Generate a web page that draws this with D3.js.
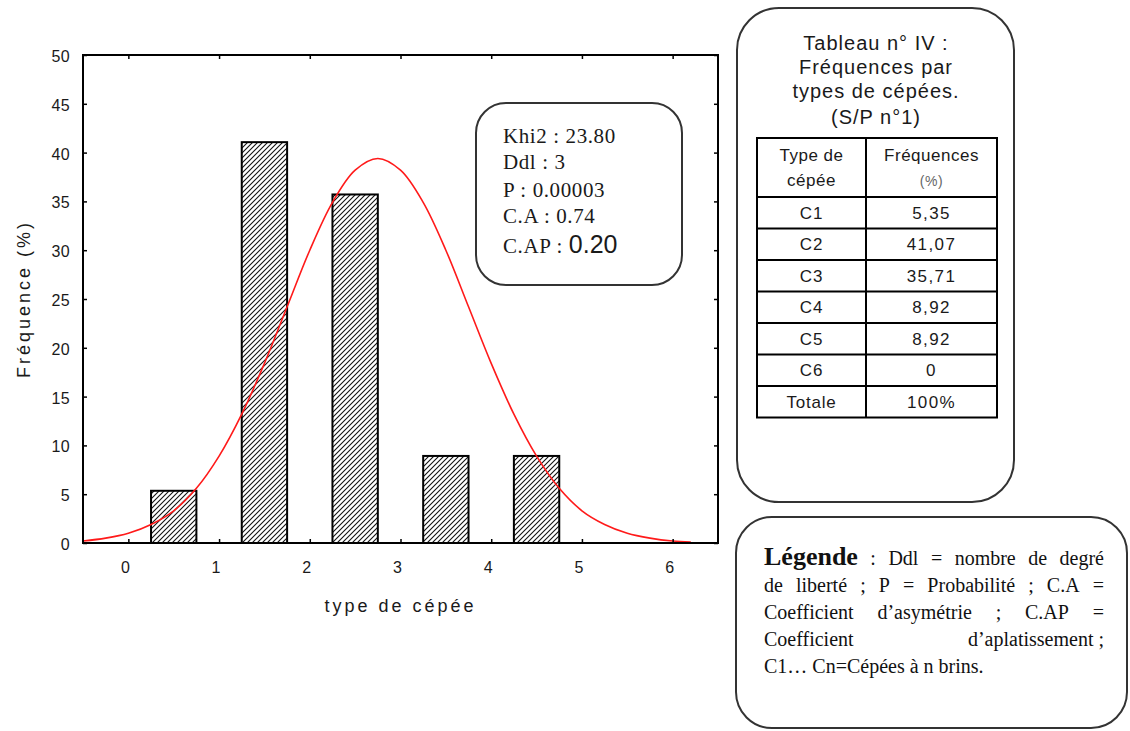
<!DOCTYPE html>
<html>
<head>
<meta charset="utf-8">
<script src="https://cdn.jsdelivr.net/npm/d3@7"></script>
<style>
  html, body { margin: 0; padding: 0; background: #fff; }
  svg { display: block; }
</style>
</head>
<body>
<svg id="chart" width="1130" height="731"></svg>
<script>
// Frequencies by stool type (cépée), S/P n°1
const categories = ["C1", "C2", "C3", "C4", "C5", "C6"];
const frequencies = [5.35, 41.07, 35.71, 8.92, 8.92, 0];

// Axis ticks
const xTicks = [0, 1, 2, 3, 4, 5, 6];
const yTicks = [0, 5, 10, 15, 20, 25, 30, 35, 40, 45, 50];

// Fitted normal curve, sampled along the x axis
const curveX = [-0.5, -0.25, 0, 0.25, 0.5, 0.75, 1, 1.25, 1.5, 1.75, 2, 2.25, 2.5, 2.75,
                3, 3.25, 3.5, 3.75, 4, 4.25, 4.5, 4.75, 5, 5.25, 5.5, 5.75, 6, 6.2];
const curveY = [0.2, 0.5, 1.0, 1.9, 3.3, 5.6, 8.9, 13.2, 18.4, 24.2, 30.0, 34.9, 38.2, 39.4,
                38.2, 34.9, 30.0, 24.2, 18.4, 13.2, 8.9, 5.6, 3.3, 1.9, 1.0, 0.5, 0.2, 0.1];

// Test statistics
const statLabels = ["Khi2 : 23.80", "Ddl : 3", "P : 0.00003", "C.A : 0.74"];
const kurtosisLabel = "C.AP : ";
const kurtosisValue = "0.20";

// Table texts
const tableTitle = ["Tableau n° IV :", "Fréquences par", "types de cépées.", "(S/P n°1)"];
const tableHeader = [["Type de", "cépée"], ["Fréquences", "(%)"]];
const totalLabel = "Totale";

// Legend texts, one array of words per justified line
const legendLines = [
  ["Légende", ":", "Ddl", "=", "nombre", "de", "degré"],
  ["de", "liberté", ";", "P", "=", "Probabilité", ";", "C.A", "="],
  ["Coefficient", "d’asymétrie", ";", "C.AP", "="],
  ["Coefficient", "d’aplatissement\u00a0;"],
  ["C1…", "Cn=Cépées", "à", "n", "brins."]
];

const svg = d3.select("#chart");

// ---------- plot ----------
const plot = { left: 83, right: 718, top: 55, bottom: 543 };
const x = d3.scaleLinear().domain([-0.5, 6.5]).range([plot.left, plot.right]);
const y = d3.scaleLinear().domain([0, 50]).range([plot.bottom, plot.top]);

const defs = svg.append("defs");
const hatch = defs.append("pattern")
  .attr("id", "hatch")
  .attr("patternUnits", "userSpaceOnUse")
  .attr("width", 5).attr("height", 5);
hatch.append("path")
  .attr("d", "M-1,1 l2,-2 M0,5 l5,-5 M4,6 l2,-2")
  .attr("stroke", "#111").attr("stroke-width", 1.1);

defs.append("clipPath").attr("id", "plotClip")
  .append("rect")
  .attr("x", plot.left).attr("y", plot.top)
  .attr("width", plot.right - plot.left).attr("height", plot.bottom - plot.top);

// bars: category i is centred at i + 0.5, half a unit wide
const barW = x(0.5) - x(0);
svg.append("g").selectAll("rect")
  .data(frequencies.map((v, i) => ({ v, i })).filter(d => d.v > 0))
  .join("rect")
  .attr("x", d => x(d.i + 0.5) - barW / 2)
  .attr("y", d => y(d.v))
  .attr("width", barW)
  .attr("height", d => y(0) - y(d.v))
  .attr("fill", "url(#hatch)")
  .attr("stroke", "#000")
  .attr("stroke-width", 2);

// normal curve
const line = d3.line()
  .x((d, i) => x(curveX[i]))
  .y(d => y(d))
  .curve(d3.curveCatmullRom);
svg.append("path")
  .attr("clip-path", "url(#plotClip)")
  .attr("d", line(curveY))
  .attr("fill", "none")
  .attr("stroke", "#ff1a1a")
  .attr("stroke-width", 1.6);

// axes with inward ticks on all four sides
const tickFont = "16px 'Liberation Sans', Arial, sans-serif";
const gx = svg.append("g").attr("transform", `translate(0,${plot.bottom})`)
  .call(d3.axisBottom(x).tickValues(xTicks).tickSize(-4).tickPadding(19).tickFormat(d3.format("d")));
const gy = svg.append("g").attr("transform", `translate(${plot.left},0)`)
  .call(d3.axisLeft(y).tickValues(yTicks).tickSize(-4).tickPadding(13).tickFormat(d3.format("d")));
const gt = svg.append("g").attr("transform", `translate(0,${plot.top})`)
  .call(d3.axisTop(x).tickValues(xTicks).tickSize(-4).tickFormat(""));
const gr = svg.append("g").attr("transform", `translate(${plot.right},0)`)
  .call(d3.axisRight(y).tickValues(yTicks).tickSize(-4).tickFormat(""));
[gx, gy, gt, gr].forEach(g => {
  g.select(".domain").remove();
  g.selectAll(".tick line").attr("stroke", "#000").attr("stroke-width", 1.5);
  g.selectAll(".tick text").style("font", tickFont).attr("fill", "#1a1a1a");
});
gx.selectAll(".tick text").attr("dx", -3).attr("letter-spacing", 1);
gy.selectAll(".tick text").attr("dy", "0.4em").attr("letter-spacing", 0.3);

svg.append("rect")
  .attr("x", plot.left).attr("y", plot.top)
  .attr("width", plot.right - plot.left).attr("height", plot.bottom - plot.top)
  .attr("fill", "none").attr("stroke", "#000").attr("stroke-width", 2);

// axis titles
svg.append("text")
  .attr("x", (plot.left + plot.right) / 2).attr("y", 612)
  .attr("text-anchor", "middle")
  .style("font", "18px 'Liberation Sans', Arial, sans-serif")
  .attr("letter-spacing", 3)
  .attr("fill", "#1a1a1a")
  .text("type de cépée");
svg.append("text")
  .attr("transform", `translate(30,${(plot.top + plot.bottom) / 2}) rotate(-90)`)
  .attr("text-anchor", "middle")
  .style("font", "18px 'Liberation Sans', Arial, sans-serif")
  .attr("letter-spacing", 3)
  .attr("fill", "#1a1a1a")
  .text("Fréquence (%)");

// ---------- statistics box ----------
const boxStroke = "#333";
svg.append("rect")
  .attr("x", 476).attr("y", 103).attr("width", 206).attr("height", 182)
  .attr("rx", 30).attr("ry", 30)
  .attr("fill", "#fff").attr("stroke", boxStroke).attr("stroke-width", 2);
const serif = "'Liberation Serif', 'Times New Roman', serif";
const statBaselines = [143, 169, 197, 223];
statLabels.forEach((s, i) => {
  svg.append("text")
    .attr("x", 503).attr("y", statBaselines[i])
    .style("font", `21px ${serif}`)
    .attr("letter-spacing", 0.6)
    .attr("fill", "#1a1a1a")
    .text(s);
});
const kt = svg.append("text").attr("x", 503).attr("y", 253).attr("fill", "#1a1a1a");
kt.append("tspan").style("font", `21px ${serif}`).attr("letter-spacing", 0.6).text(kurtosisLabel);
kt.append("tspan").style("font", "25px 'Liberation Sans', Arial, sans-serif").text(kurtosisValue);

// ---------- table box ----------
svg.append("rect")
  .attr("x", 737).attr("y", 8).attr("width", 277).attr("height", 494)
  .attr("rx", 42).attr("ry", 42)
  .attr("fill", "#fff").attr("stroke", boxStroke).attr("stroke-width", 2);
const sans = "'Liberation Sans', Arial, sans-serif";
const titleBaselines = [50, 74, 98, 124];
tableTitle.forEach((s, i) => {
  svg.append("text")
    .attr("x", 876).attr("y", titleBaselines[i])
    .attr("text-anchor", "middle")
    .style("font", `20px ${sans}`)
    .attr("letter-spacing", 1)
    .attr("fill", "#1a1a1a")
    .text(s);
});

const tbl = { left: 757, mid: 866, right: 997, top: 138, headerBottom: 197, rowH: 31.5 };
const rowLabels = categories.concat([totalLabel]);
const fmtFreq = v => v === 0 ? "0" : v.toFixed(2).replace(".", ",");
const rowValues = frequencies.map(fmtFreq).concat([Math.round(d3.sum(frequencies)) + "%"]);
const tblBottom = tbl.headerBottom + rowLabels.length * tbl.rowH;

const tg = svg.append("g");
tg.append("rect")
  .attr("x", tbl.left).attr("y", tbl.top)
  .attr("width", tbl.right - tbl.left).attr("height", tblBottom - tbl.top)
  .attr("fill", "none").attr("stroke", "#000").attr("stroke-width", 2);
tg.append("line")
  .attr("x1", tbl.mid).attr("x2", tbl.mid).attr("y1", tbl.top).attr("y2", tblBottom)
  .attr("stroke", "#000").attr("stroke-width", 2);
tg.selectAll("line.row")
  .data(rowLabels)
  .join("line").attr("class", "row")
  .attr("x1", tbl.left).attr("x2", tbl.right)
  .attr("y1", (d, i) => tbl.headerBottom + i * tbl.rowH)
  .attr("y2", (d, i) => tbl.headerBottom + i * tbl.rowH)
  .attr("stroke", "#000").attr("stroke-width", 2);

const colCenters = [(tbl.left + tbl.mid) / 2, (tbl.mid + tbl.right) / 2];
tableHeader.forEach((lines, c) => {
  lines.forEach((s, k) => {
    tg.append("text")
      .attr("x", colCenters[c]).attr("y", [161, 186][k])
      .attr("text-anchor", "middle")
      .style("font", `${c === 1 && k === 1 ? 14 : 17}px ${sans}`)
      .attr("letter-spacing", 0.5)
      .attr("fill", c === 1 && k === 1 ? "#666" : "#1a1a1a")
      .text(s);
  });
});
rowLabels.forEach((s, i) => {
  const cy = tbl.headerBottom + (i + 0.5) * tbl.rowH;
  tg.append("text")
    .attr("x", colCenters[0]).attr("y", cy).attr("dy", "0.36em")
    .attr("text-anchor", "middle")
    .style("font", `17px ${sans}`).attr("letter-spacing", 0.8)
    .attr("fill", "#1a1a1a").text(s);
  tg.append("text")
    .attr("x", colCenters[1]).attr("y", cy).attr("dy", "0.36em")
    .attr("text-anchor", "middle")
    .style("font", `17px ${sans}`).attr("letter-spacing", 1.4)
    .attr("fill", "#1a1a1a").text(rowValues[i]);
});

// ---------- legend box ----------
svg.append("rect")
  .attr("x", 736).attr("y", 517).attr("width", 391).attr("height", 211)
  .attr("rx", 36).attr("ry", 36)
  .attr("fill", "#fff").attr("stroke", boxStroke).attr("stroke-width", 2);

const legX0 = 764, legX1 = 1104;
const legBaselines = [565, 592, 619, 646, 673];
const legFont = `20px ${serif}`;
const boldFont = `bold 26px ${serif}`;
legendLines.forEach((words, li) => {
  const nodes = words.map((w, wi) => {
    const bold = li === 0 && wi === 0;
    return svg.append("text")
      .attr("y", legBaselines[li])
      .style("font", bold ? boldFont : legFont)
      .attr("fill", "#111")
      .text(w);
  });
  const widths = nodes.map(n => n.node().getComputedTextLength());
  const justify = li < legendLines.length - 1;
  const gap = justify
    ? (legX1 - legX0 - d3.sum(widths)) / (words.length - 1)
    : 5;
  let cx = legX0;
  nodes.forEach((n, i) => {
    n.attr("x", cx);
    cx += widths[i] + gap;
  });
});
</script>
</body>
</html>
